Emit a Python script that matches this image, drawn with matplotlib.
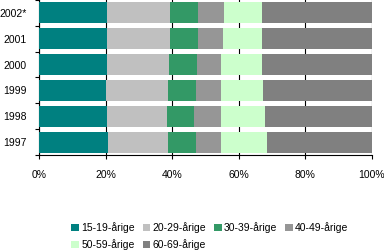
import matplotlib.pyplot as plt
import numpy as np
from matplotlib.patches import Patch

plt.rcParams['font.family'] = ['Liberation Sans', 'DejaVu Sans']

years = ["1997", "1998", "1999", "2000", "2001", "2002*"]
groups = ["15-19-årige", "20-29-årige", "30-39-årige", "40-49-årige", "50-59-årige", "60-69-årige"]
colors = ["#008080", "#C0C0C0", "#339966", "#969696", "#CCFFCC", "#808080"]

# shares (%) per age group, one value per year (1997 .. 2002*)
g15_19 = [20.7, 20.4, 20.1, 20.4, 20.4, 20.4]
g20_29 = [18.0, 18.0, 18.6, 18.6, 18.9, 18.9]
g30_39 = [8.4, 8.1, 8.4, 8.4, 8.4, 8.4]
g40_49 = [7.5, 8.1, 7.5, 7.2, 7.5, 7.8]
g50_59 = [13.8, 13.2, 12.6, 12.3, 11.7, 11.4]
g60_69 = [31.6, 32.2, 32.8, 33.1, 33.1, 33.1]

series = [g15_19, g20_29, g30_39, g40_49, g50_59, g60_69]

fig = plt.figure(figsize=(3.84, 2.5), dpi=100)
ax = fig.add_axes([39 / 384, 95 / 250, 333 / 384, 155 / 250])

y = np.arange(len(years))
left = np.zeros(len(years))
for vals, c in zip(series, colors):
    ax.barh(y, vals, left=left, height=0.81, color=c, zorder=3)
    left += np.array(vals)

ax.set_xlim(0, 100)
ax.set_ylim(-0.5, len(years) - 0.5)
ax.set_xticks([0, 20, 40, 60, 80, 100])
ax.set_xticklabels(["0%", "20%", "40%", "60%", "80%", "100%"], fontsize=7.5)
ax.set_yticks(y)
ax.set_yticklabels(years, fontsize=7.5)
ax.set_yticks(np.arange(-0.5, len(years), 1), minor=True)
ax.tick_params(axis='y', which='major', length=0, pad=9)
ax.tick_params(axis='y', which='minor', length=3, width=0.8, direction='out')
ax.tick_params(axis='x', length=3, width=0.8, direction='out', pad=8)
ax.grid(axis='x', color='black', linewidth=0.8, zorder=0)
for s in ['top', 'right']:
    ax.spines[s].set_visible(False)
for s in ['left', 'bottom']:
    ax.spines[s].set_linewidth(0.8)

handles = [Patch(facecolor=c, label=g) for g, c in zip(groups, colors)]
order = [0, 4, 1, 5, 2, 3]
fig.legend([handles[i] for i in order], [groups[i] for i in order],
           ncol=4, loc='upper left', bbox_to_anchor=(66 / 384, 1 - 217 / 250),
           frameon=False, fontsize=7.5, handlelength=0.75, handleheight=0.75,
           handletextpad=0.2, columnspacing=0.75, labelspacing=0.6, borderpad=0)

fig.savefig("out.png", dpi=100)
